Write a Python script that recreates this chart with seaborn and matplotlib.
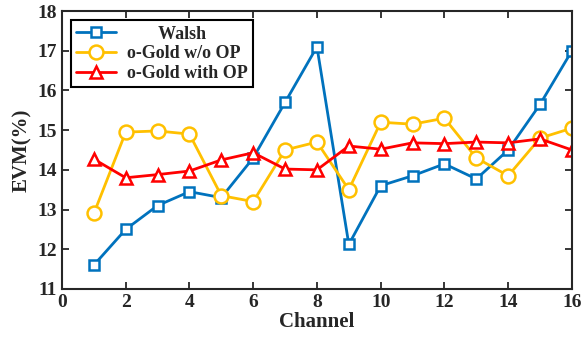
import matplotlib
matplotlib.use("Agg")
import matplotlib.pyplot as plt
import seaborn as sns
import pandas as pd

channels = list(range(1, 17))
walsh = [11.6, 12.5, 13.1, 13.45, 13.3, 14.3, 15.7, 17.1, 12.12, 13.6, 13.85, 14.15, 13.77, 14.5, 15.65, 17.0]
gold_wo = [12.9, 14.95, 14.98, 14.9, 13.35, 13.2, 14.5, 14.7, 13.5, 15.2, 15.15, 15.3, 14.3, 13.85, 14.8, 15.05]
gold_with = [14.27, 13.8, 13.88, 13.97, 14.25, 14.43, 14.02, 14.0, 14.6, 14.52, 14.68, 14.66, 14.7, 14.68, 14.78, 14.5]
labels = ["Walsh", "o-Gold w/o OP", "o-Gold with OP"]
colors = ["#0072BD", "#FFC000", "#FF0000"]
markers = ["s", "o", "^"]
msizes = [7, 10, 9]

sns.set_style("ticks")
plt.rcParams['font.family'] = ['Liberation Serif', 'DejaVu Serif']
plt.rcParams['font.weight'] = 'bold'

fig = plt.figure(figsize=(5.83, 3.46), dpi=100)
ax = fig.add_axes([0.1063, 0.165, 0.8747, 0.803])

for lab, vals, c, m, ms in zip(labels, [walsh, gold_wo, gold_with], colors, markers, msizes):
    df = pd.DataFrame({"Channel": channels, "EVM": vals})
    sns.lineplot(data=df, x="Channel", y="EVM", ax=ax, color=c, marker=m,
                 markersize=ms, mfc="white", mec=c, mew=1.8, linewidth=2,
                 label=lab, legend=False)

ax.set_xlim(0, 16)
ax.set_ylim(11, 18)
ax.set_xticks(range(0, 17, 2))
ax.set_yticks(range(11, 19))
ax.tick_params(direction="in", top=True, right=True, labelsize=14, width=1.3, length=5)
for lbl in ax.get_xticklabels() + ax.get_yticklabels():
    lbl.set_fontweight("bold")
for s in ax.spines.values():
    s.set_linewidth(1.5)
    s.set_color("#262626")
ax.set_xlabel("Channel", fontsize=15, fontweight="bold", labelpad=1)
ax.set_ylabel("EVM(%)", fontsize=15, fontweight="bold", labelpad=4)

leg = ax.legend(loc="upper left", fancybox=False, edgecolor="black",
                prop={"weight": "bold", "size": 13}, handlelength=2.2,
                borderpad=0.3, labelspacing=0.15, borderaxespad=0.5, framealpha=1,
                handletextpad=0.6)
leg.get_frame().set_linewidth(1.5)
leg.get_texts()[0].set_text("       " + labels[0])

fig.savefig("out.png", dpi=100)
